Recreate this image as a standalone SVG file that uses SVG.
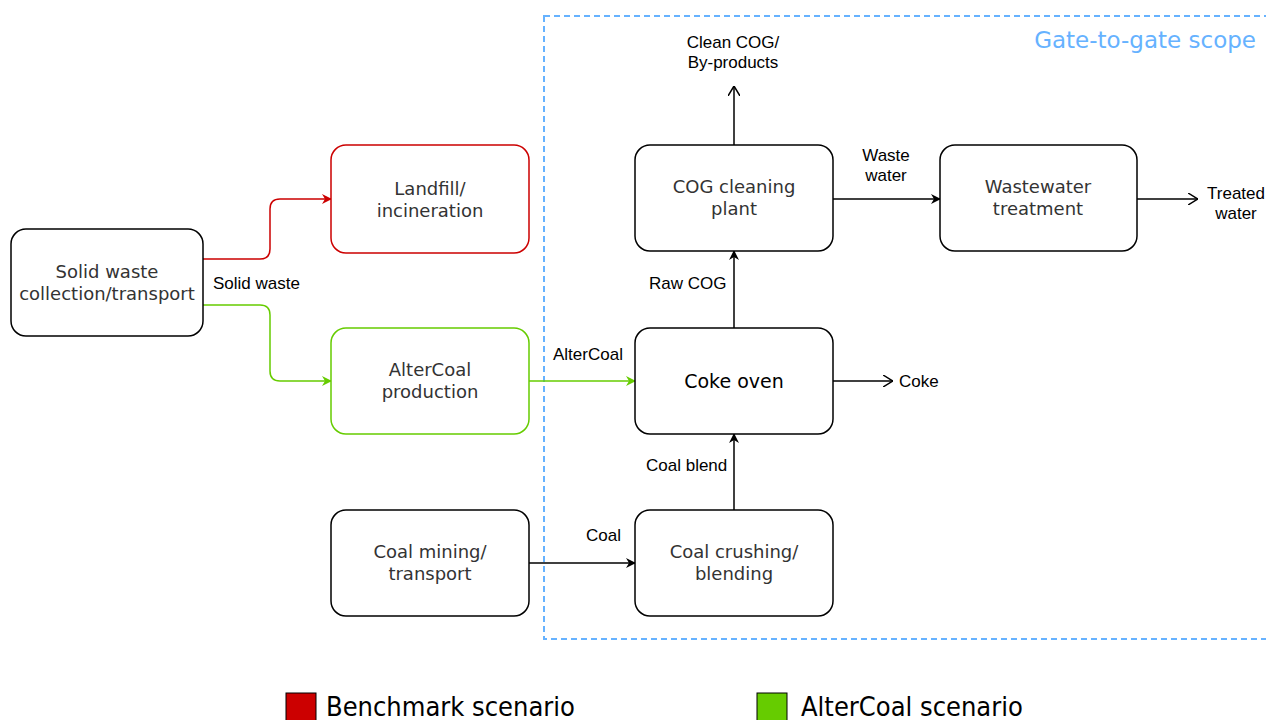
<svg xmlns="http://www.w3.org/2000/svg" width="1266" height="720" viewBox="0 0 1266 720">
<style>
.box{fill:#fff;stroke:#000;stroke-width:1.5}
.nt{font-family:"DejaVu Sans",Verdana,sans-serif;font-size:18px;fill:#333;text-anchor:middle}
.lb{font-family:"Liberation Sans",Arial,sans-serif;font-size:17px;fill:#000}
.ln{fill:none;stroke:#000;stroke-width:1.5}
.lg{font-family:"DejaVu Sans Condensed","DejaVu Sans",sans-serif;font-size:27px;fill:#000}
</style>
<defs>
<marker id="ab" viewBox="0 0 10 10" refX="9" refY="5" markerWidth="10" markerHeight="10" markerUnits="userSpaceOnUse" orient="auto"><path d="M0,0 L10,5 L0,10 L3,5 Z" fill="#000"/></marker>
<marker id="ar" viewBox="0 0 10 10" refX="9" refY="5" markerWidth="10" markerHeight="10" markerUnits="userSpaceOnUse" orient="auto"><path d="M0,0 L10,5 L0,10 L3,5 Z" fill="#CC0000"/></marker>
<marker id="ag" viewBox="0 0 10 10" refX="9" refY="5" markerWidth="10" markerHeight="10" markerUnits="userSpaceOnUse" orient="auto"><path d="M0,0 L10,5 L0,10 L3,5 Z" fill="#66CC00"/></marker>
<marker id="ao" viewBox="0 0 10 12" refX="10" refY="6" markerWidth="10" markerHeight="12" markerUnits="userSpaceOnUse" orient="auto"><path d="M0,0 L10,6 L0,12" fill="none" stroke="#000" stroke-width="1.5"/></marker>
</defs>
<rect id="scope" x="544" y="16" width="730" height="623" fill="none" stroke="#66B2FF" stroke-width="2" stroke-dasharray="6,4"/>
<text x="1256" y="48" font-family="DejaVu Sans,sans-serif" font-size="23" fill="#66B2FF" text-anchor="end">Gate-to-gate scope</text>
<g id="connectors">
<path d="M203,259 H260 Q270,259 270,249 V209 Q270,199 280,199 H331" fill="none" stroke="#CC0000" stroke-width="1.5" marker-end="url(#ar)"/>
<path d="M203,305 H260 Q270,305 270,315 V371 Q270,381 280,381 H331" fill="none" stroke="#66CC00" stroke-width="1.5" marker-end="url(#ag)"/>
<path d="M529,381 H635" fill="none" stroke="#66CC00" stroke-width="1.5" marker-end="url(#ag)"/>
<path class="ln" d="M529,563 H635" marker-end="url(#ab)"/>
<path class="ln" d="M734,510 V434" marker-end="url(#ab)"/>
<path class="ln" d="M734,328 V251" marker-end="url(#ab)"/>
<path class="ln" d="M734,145 V86" marker-end="url(#ao)"/>
<path class="ln" d="M833,199 H940" marker-end="url(#ab)"/>
<path class="ln" d="M1137,199 H1198" marker-end="url(#ao)"/>
<path class="ln" d="M833,381 H893" marker-end="url(#ao)"/>
<text class="lb" x="213" y="289">Solid waste</text>
<text class="lb" x="553" y="360">AlterCoal</text>
<text class="lb" x="586" y="541">Coal</text>
<text class="lb" x="646" y="471">Coal blend</text>
<text class="lb" x="649" y="289">Raw COG</text>
<text class="lb" x="733" y="48" text-anchor="middle">Clean COG/</text>
<text class="lb" x="733" y="68" text-anchor="middle">By-products</text>
<text class="lb" x="886" y="161" text-anchor="middle">Waste</text>
<text class="lb" x="886" y="181" text-anchor="middle">water</text>
<text class="lb" x="1236" y="199" text-anchor="middle">Treated</text>
<text class="lb" x="1236" y="219" text-anchor="middle">water</text>
<text class="lb" x="899" y="387">Coke</text>
</g>
<g id="solid-waste"><rect class="box" x="11" y="229" width="192" height="107" rx="15"/><text class="nt" x="107" y="278">Solid waste</text><text class="nt" x="107" y="300">collection/transport</text></g>
<g id="landfill"><rect class="box" x="331" y="145" width="198" height="108" rx="15" style="stroke:#CC0000"/><text class="nt" x="430" y="195">Landfill/</text><text class="nt" x="430" y="217">incineration</text></g>
<g id="altercoal-production"><rect class="box" x="331" y="328" width="198" height="106" rx="15" style="stroke:#66CC00"/><text class="nt" x="430" y="376">AlterCoal</text><text class="nt" x="430" y="398">production</text></g>
<g id="coal-mining"><rect class="box" x="331" y="510" width="198" height="106" rx="15"/><text class="nt" x="430" y="558">Coal mining/</text><text class="nt" x="430" y="580">transport</text></g>
<g id="cog-cleaning"><rect class="box" x="635" y="145" width="198" height="106" rx="15"/><text class="nt" x="734" y="193">COG cleaning</text><text class="nt" x="734" y="215">plant</text></g>
<g id="coke-oven"><rect class="box" x="635" y="328" width="198" height="106" rx="15"/><text class="nt" x="734" y="388" style="fill:#000;font-size:19px">Coke oven</text></g>
<g id="coal-crushing"><rect class="box" x="635" y="510" width="198" height="106" rx="15"/><text class="nt" x="734" y="558">Coal crushing/</text><text class="nt" x="734" y="580">blending</text></g>
<g id="wastewater"><rect class="box" x="940" y="145" width="197" height="106" rx="15"/><text class="nt" x="1038" y="193">Wastewater</text><text class="nt" x="1038" y="215">treatment</text></g>
<g id="legend">
<rect x="286" y="693" width="30" height="30" fill="#CC0000" stroke="#000" stroke-width="1"/>
<text class="lg" x="326" y="716">Benchmark scenario</text>
<rect x="757" y="693" width="30" height="30" fill="#66CC00" stroke="#000" stroke-width="1"/>
<text class="lg" x="801" y="716">AlterCoal scenario</text>
</g>
</svg>
